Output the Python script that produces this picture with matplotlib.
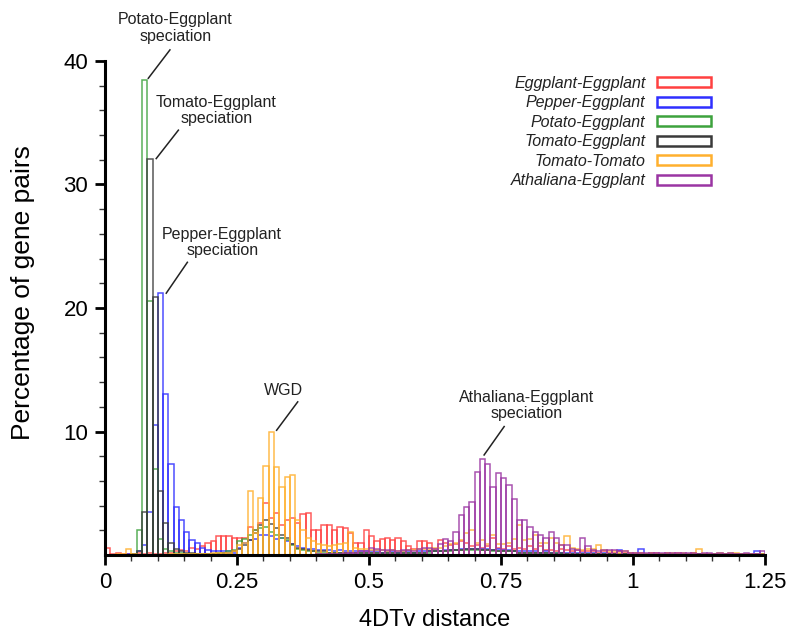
import numpy as np
import matplotlib
matplotlib.use("Agg")
import matplotlib.pyplot as plt
from matplotlib.ticker import FixedLocator

plt.rcParams['font.family'] = ['Liberation Sans', 'DejaVu Sans']

# ---- data: percentage of gene pairs per 4DTv bin (bin width 0.01, 0..1.25) ----
bin_width = 0.01
series_names = ["Eggplant-Eggplant", "Pepper-Eggplant", "Potato-Eggplant",
                "Tomato-Eggplant", "Tomato-Tomato", "Athaliana-Eggplant"]

eggplant_eggplant = [
    0.6, 0.1, 0.2, 0.1, 0.1, 0.1, 0.2, 0.1, 0.2, 0.1,
    0.1, 0.2, 0.2, 0.3, 0.4, 0.3, 0.6, 0.5, 0.7, 1.0,
    1.1, 1.5, 1.5, 1.5, 1.4, 1.4, 1.4, 2.3, 2.0, 2.6,
    4.2, 3.0, 3.4, 2.4, 2.8, 3.0, 2.6, 3.3, 3.4, 2.0,
    2.0, 2.4, 2.4, 2.0, 2.3, 2.2, 1.8, 1.0, 1.0, 2.0,
    1.5, 1.1, 1.3, 1.4, 1.2, 1.4, 1.1, 0.7, 0.5, 1.1,
    1.1, 1.0, 0.5, 1.2, 1.0, 0.8, 0.9, 1.1, 1.0, 0.7,
    0.8, 0.6, 0.7, 1.4, 0.6, 0.5, 0.7, 0.5, 0.6, 0.5,
    0.7, 0.5, 0.7, 0.4, 0.4, 0.3, 0.5, 0.4, 0.3, 0.4,
    0.3, 0.3, 0.3, 0.2, 0.3, 0.2, 0.2, 0.3, 0.2, 0.2,
    0.2, 0.2, 0.1, 0.2, 0.2, 0.1, 0.2, 0.1, 0.2, 0.1,
    0.1, 0.2, 0.1, 0.1, 0.1, 0.1, 0.1, 0.1, 0.1, 0.1,
    0.1, 0.1, 0.1, 0.1, 0.1]

pepper_eggplant = [
    0.0, 0.0, 0.0, 0.0, 0.1, 0.1, 0.3, 0.8, 3.5, 10.5,
    21.2, 13.0, 7.4, 3.9, 2.8, 1.9, 1.2, 1.0, 0.6, 0.4,
    0.3, 0.3, 0.3, 0.3, 0.2, 0.6, 1.0, 1.2, 1.3, 1.6,
    1.6, 1.5, 1.3, 1.4, 1.1, 0.9, 0.7, 0.6, 0.5, 0.5,
    0.4, 0.4, 0.4, 0.3, 0.4, 0.3, 0.3, 0.3, 0.3, 0.3,
    0.3, 0.3, 0.2, 0.3, 0.3, 0.2, 0.3, 0.3, 0.2, 0.3,
    0.3, 0.3, 0.3, 0.3, 0.4, 0.4, 0.4, 0.5, 0.5, 0.5,
    0.5, 0.5, 0.5, 0.4, 0.5, 0.4, 0.4, 0.3, 0.3, 0.3,
    0.3, 0.3, 0.2, 0.3, 0.2, 0.2, 0.2, 0.2, 0.2, 0.2,
    0.2, 0.2, 0.2, 0.1, 0.2, 0.1, 0.1, 0.4, 0.1, 0.1,
    0.1, 0.5, 0.1, 0.1, 0.1, 0.1, 0.1, 0.1, 0.1, 0.1,
    0.1, 0.1, 0.1, 0.1, 0.1, 0.1, 0.1, 0.1, 0.1, 0.1,
    0.1, 0.1, 0.1, 0.3, 0.1]

potato_eggplant = [
    0.0, 0.0, 0.0, 0.0, 0.0, 0.1, 2.0, 38.5, 20.6, 7.0,
    1.3, 0.5, 0.3, 0.2, 0.2, 0.1, 0.1, 0.1, 0.1, 0.1,
    0.1, 0.2, 0.2, 0.3, 0.4, 1.1, 1.3, 1.6, 2.0, 2.2,
    2.3, 1.9, 1.6, 1.4, 1.2, 0.8, 0.5, 0.4, 0.3, 0.3,
    0.2, 0.2, 0.2, 0.2, 0.2, 0.2, 0.2, 0.2, 0.2, 0.2,
    0.2, 0.2, 0.1, 0.2, 0.2, 0.1, 0.2, 0.2, 0.2, 0.2,
    0.2, 0.2, 0.3, 0.3, 0.3, 0.3, 0.4, 0.4, 0.4, 0.4,
    0.4, 0.4, 0.4, 0.3, 0.3, 0.3, 0.3, 0.3, 0.2, 0.2,
    0.2, 0.2, 0.2, 0.2, 0.1, 0.2, 0.1, 0.1, 0.1, 0.1,
    0.1, 0.1, 0.1, 0.1, 0.1, 0.1, 0.1, 0.1, 0.1, 0.1,
    0.1, 0.1, 0.1, 0.1, 0.1, 0.1, 0.1, 0.1, 0.1, 0.1,
    0.1, 0.1, 0.1, 0.1, 0.1, 0.1, 0.1, 0.1, 0.1, 0.1,
    0.1, 0.1, 0.1, 0.1, 0.1]

tomato_eggplant = [
    0.0, 0.0, 0.0, 0.0, 0.0, 0.1, 0.3, 3.5, 32.1, 20.9,
    5.2, 2.6, 1.0, 0.5, 0.3, 0.2, 0.2, 0.1, 0.1, 0.1,
    0.1, 0.1, 0.2, 0.2, 0.3, 0.5, 0.8, 1.2, 1.8, 2.4,
    2.8, 2.5, 2.2, 1.6, 1.4, 0.9, 0.6, 0.5, 0.4, 0.3,
    0.3, 0.3, 0.2, 0.2, 0.2, 0.2, 0.2, 0.2, 0.2, 0.2,
    0.2, 0.2, 0.2, 0.2, 0.2, 0.2, 0.2, 0.2, 0.2, 0.2,
    0.2, 0.3, 0.3, 0.3, 0.3, 0.4, 0.4, 0.4, 0.5, 0.5,
    0.5, 0.4, 0.4, 0.4, 0.3, 0.3, 0.3, 0.3, 0.2, 0.2,
    0.2, 0.2, 0.2, 0.2, 0.2, 0.1, 0.2, 0.1, 0.1, 0.1,
    0.1, 0.1, 0.1, 0.1, 0.1, 0.1, 0.1, 0.1, 0.1, 0.1,
    0.1, 0.1, 0.1, 0.1, 0.1, 0.1, 0.1, 0.1, 0.1, 0.1,
    0.1, 0.1, 0.1, 0.1, 0.1, 0.1, 0.1, 0.1, 0.1, 0.1,
    0.1, 0.1, 0.1, 0.1, 0.1]

tomato_tomato = [
    0.0, 0.0, 0.1, 0.1, 0.5, 0.1, 0.0, 0.0, 0.0, 0.0,
    0.0, 0.0, 0.1, 0.1, 0.1, 0.1, 0.1, 0.1, 0.1, 0.1,
    0.2, 0.2, 0.2, 0.2, 0.3, 0.8, 1.0, 5.2, 1.8, 4.6,
    7.2, 10.0, 7.1, 5.5, 6.3, 6.5, 2.8, 2.0, 1.4, 1.1,
    0.9, 0.8, 0.7, 0.8, 0.9, 1.0, 1.9, 0.6, 0.5, 0.5,
    0.4, 0.4, 0.4, 0.3, 0.4, 0.3, 0.3, 0.4, 0.4, 0.5,
    0.5, 0.5, 0.6, 0.6, 0.7, 0.9, 1.0, 1.2, 1.8, 2.0,
    1.0, 1.2, 0.9, 1.6, 0.9, 0.9, 1.0, 1.3, 2.4, 1.2,
    1.3, 1.6, 1.0, 1.0, 1.4, 1.0, 0.8, 1.5, 0.6, 0.5,
    0.4, 0.5, 0.5, 0.8, 0.4, 0.3, 0.3, 0.2, 0.3, 0.2,
    0.2, 0.2, 0.1, 0.2, 0.1, 0.1, 0.2, 0.2, 0.1, 0.2,
    0.1, 0.2, 0.5, 0.1, 0.1, 0.1, 0.2, 0.1, 0.2, 0.2,
    0.1, 0.1, 0.1, 0.1, 0.1]

athaliana_eggplant = [
    0.0, 0.0, 0.0, 0.0, 0.0, 0.0, 0.0, 0.0, 0.0, 0.0,
    0.0, 0.0, 0.0, 0.0, 0.0, 0.0, 0.0, 0.0, 0.0, 0.0,
    0.0, 0.0, 0.0, 0.0, 0.0, 0.0, 0.0, 0.0, 0.0, 0.0,
    0.0, 0.0, 0.0, 0.0, 0.0, 0.0, 0.0, 0.0, 0.0, 0.0,
    0.05, 0.1, 0.1, 0.1, 0.1, 0.2, 0.2, 0.2, 0.3, 0.3,
    0.6, 0.5, 0.4, 0.4, 0.4, 0.3, 0.4, 0.4, 0.3, 0.5,
    0.6, 0.6, 0.5, 0.9, 1.3, 1.1, 1.9, 3.2, 3.9, 4.3,
    6.7, 7.8, 7.4, 5.5, 6.6, 6.2, 5.7, 4.5, 2.8, 2.8,
    2.3, 1.9, 1.6, 1.4, 1.9, 1.4, 0.8, 0.8, 0.5, 0.4,
    1.4, 0.7, 0.4, 0.3, 0.4, 0.4, 0.4, 0.3, 0.3, 0.2,
    0.2, 0.2, 0.2, 0.2, 0.2, 0.2, 0.2, 0.2, 0.2, 0.2,
    0.2, 0.2, 0.1, 0.2, 0.2, 0.1, 0.2, 0.1, 0.2, 0.1,
    0.1, 0.2, 0.1, 0.1, 0.3]

series_values = [eggplant_eggplant, pepper_eggplant, potato_eggplant,
                 tomato_eggplant, tomato_tomato, athaliana_eggplant]
series_colors = ["#ff4040", "#2f2fff", "#3da23d", "#3a3a3a", "#ffb02e", "#9a35a3"]

x_ticks = [0, 0.25, 0.5, 0.75, 1, 1.25]
x_tick_labels = ["0", "0.25", "0.5", "0.75", "1", "1.25"]
y_ticks = [10, 20, 30, 40]
y_tick_labels = ["10", "20", "30", "40"]

annotations = [
    ("Potato-Eggplant\nspeciation", (0.133, 42.7), (0.123, 40.9), (0.082, 38.6)),
    ("Tomato-Eggplant\nspeciation", (0.211, 36.0), (0.139, 34.4), (0.097, 32.1)),
    ("Pepper-Eggplant\nspeciation", (0.222, 25.3), (0.156, 23.7), (0.116, 21.2)),
    ("WGD", (0.338, 13.3), (0.365, 12.4), (0.325, 10.1)),
    ("Athaliana-Eggplant\nspeciation", (0.798, 12.1), (0.756, 10.4), (0.718, 8.1)),
]

# ---- figure ----
fig = plt.figure(figsize=(8.04, 6.36), dpi=100)
ax = fig.add_axes([105 / 804, 81 / 636, 660 / 804, 494 / 636])

n_bins = len(eggplant_eggplant)
left_edges = np.arange(n_bins) * bin_width
for name, vals, col in zip(series_names, series_values, series_colors):
    ax.bar(left_edges, vals, width=bin_width, align='edge', fill=False,
           edgecolor=col, linewidth=1.1, label=name, alpha=0.85)

ax.set_xlim(0, 1.25)
ax.set_ylim(0, 40)

for s in ['top', 'right']:
    ax.spines[s].set_visible(False)
for s in ['left', 'bottom']:
    ax.spines[s].set_linewidth(2.2)
    ax.spines[s].set_color('black')

ax.set_xticks(x_ticks)
ax.set_xticklabels(x_tick_labels)
ax.xaxis.set_minor_locator(FixedLocator(np.arange(0.05, 1.25, 0.05)))
ax.set_yticks(y_ticks)
ax.set_yticklabels(y_tick_labels)
ax.yaxis.set_minor_locator(FixedLocator(np.arange(2, 40, 2)))
ax.tick_params(which='major', length=7, width=2.0, labelsize=16, pad=5, color='black')
ax.tick_params(which='minor', length=4, width=1.0, color='#333333')

ax.set_xlabel("4DTv distance", fontsize=17)
ax.xaxis.set_label_coords(0.5, -54 / 494)
ax.set_ylabel("Percentage of gene pairs", fontsize=19)
ax.yaxis.set_label_coords(-70 / 660, 0.532)

for text, tpos, lstart, lend in annotations:
    ax.text(tpos[0], tpos[1], text, ha='center', va='center', fontsize=11.5,
            color='#222222', clip_on=False, linespacing=1.15)
    ax.plot([lstart[0], lend[0]], [lstart[1], lend[1]], color='#222222',
            linewidth=1.1, clip_on=False)

leg = ax.legend(loc='upper right', bbox_to_anchor=(711 / 804, 1 - 76 / 636),
                bbox_transform=fig.transFigure, frameon=False, markerfirst=False,
                prop={'style': 'italic', 'size': 11.5}, handlelength=3.4,
                handleheight=0.6, labelspacing=0.28, handletextpad=0.7,
                borderpad=0, borderaxespad=0)
for t in leg.get_texts():
    t.set_color('#222222')
for h in leg.legend_handles:
    h.set_linewidth(1.8)
    h.set_alpha(1)

fig.savefig("out.png", dpi=100)
